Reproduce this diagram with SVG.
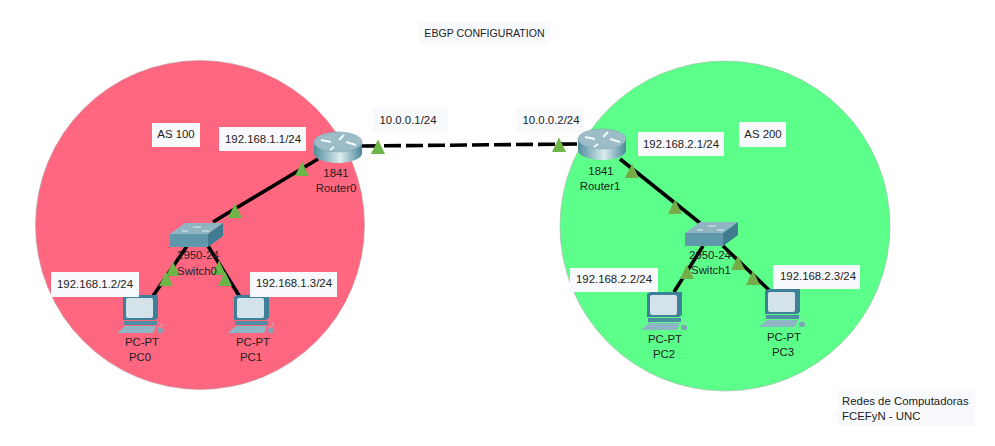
<svg xmlns="http://www.w3.org/2000/svg" width="995" height="446" viewBox="0 0 995 446">
<style>
text{font-family:"Liberation Sans",Arial,sans-serif;font-size:11.4px;fill:#222;text-anchor:middle}
.lb{fill:#f8f9fd}
.w{stroke:#000;stroke-width:3.6;fill:none}
.t{fill:#6eb548}
.t2{fill:#74ad47}
.st{text-anchor:start}
</style>
<defs>
<linearGradient id="rg" x1="0" x2="1" y1="0" y2="0"><stop offset="0" stop-color="#4f8e9f"/><stop offset=".55" stop-color="#dcecef"/><stop offset="1" stop-color="#4a8597"/></linearGradient>
<g id="router">
<path d="M-24 0V11C-24 17 -12 21 0 21S24 17 24 11V0Z" fill="url(#rg)"/>
<ellipse cx="0" cy="0" rx="24" ry="10" fill="#9cbcc8" stroke="#7fa3b0" stroke-width=".6"/>
<path d="M-17 -2L-7 0M6 -7L1 -2M8 0L18 3M-4 5L-8 8" stroke="#f2f7f9" stroke-width="2" fill="none"/>
</g>
<g id="switch">
<path d="M-26 -1H12L27 -12H-11Z" fill="#8fb5c3"/>
<rect x="-26" y="-1" width="38" height="13" fill="#5f98ab"/>
<path d="M12 -1L27 -12V1L12 12Z" fill="#3f7c90"/>
<path d="M-14 -4H-8M-3 -8H5M6 -4H13" stroke="#e3eef2" stroke-width="1"/>
</g>
<g id="pc">
<path d="M-17 -17L-14 -19H18V4L15 6H-17Z" fill="#3d8097"/>
<rect x="-14" y="-16" width="27" height="20" rx="2" fill="#d4e3ea"/>
<rect x="-16" y="7" width="33" height="4" fill="#4f8da3"/>
<path d="M-23 19L-15 12H16L13 19Z" fill="#8fb6c5"/>
<rect x="17" y="14" width="6" height="5" rx="2" fill="#7ba6b6"/>
<path d="M18 14C22 11 24 12 21 9" stroke="#a9c5cf" fill="none"/>
</g>
<polygon id="tri" points="0,-7.500 7,7 -7,7"/>
</defs>
<rect width="995" height="446" fill="#fff"/>
<g id="areas">
<circle cx="200" cy="225" r="164.500" fill="#ff6680" stroke="#b5a0a5" stroke-width=".6"/>
<circle cx="725" cy="226" r="165" fill="#5cff8a" stroke="#a0b5a5" stroke-width=".6"/>
</g>
<g id="connectors">
<path class="w" d="M318 159L213 222"/>
<path class="w" d="M187 246L151 299"/>
<path class="w" d="M208 246L240 297"/>
<path class="w" d="M620 159L700 223"/>
<path class="w" d="M703 246L674 292"/>
<path class="w" d="M723 246L771 292"/>
<path class="w" d="M362 146L578 144" stroke-dasharray="17 5"/>
</g>
<g id="link-lights">
<use href="#tri" class="t" x="302" y="169"/>
<use href="#tri" class="t" x="235" y="211"/>
<use href="#tri" class="t" x="173" y="269"/>
<use href="#tri" class="t" x="166" y="279"/>
<use href="#tri" class="t" x="219" y="268"/>
<use href="#tri" class="t" x="225" y="279"/>
<use href="#tri" class="t" x="378" y="147"/>
<use href="#tri" class="t" x="559" y="145"/>
<use href="#tri" class="t2" x="632" y="171"/>
<use href="#tri" class="t2" x="675" y="207"/>
<use href="#tri" class="t2" x="687" y="272"/>
<use href="#tri" class="t2" x="738" y="263"/>
<use href="#tri" class="t2" x="753" y="278"/>
</g>
<g id="Router0"><use href="#router" x="338" y="142"/><text x="336" y="177">1841</text><text x="336" y="192">Router0</text></g>
<g id="Router1"><use href="#router" x="602" y="139"/><text x="601" y="175">1841</text><text x="600" y="190">Router1</text></g>
<g id="Switch0"><use href="#switch" x="196" y="235"/><text x="198" y="259">2950-24</text><text x="197" y="275">Switch0</text></g>
<g id="Switch1"><use href="#switch" x="711" y="234"/><text x="710" y="259">2950-24</text><text x="711" y="274">Switch1</text></g>
<g id="PC0"><use href="#pc" x="140" y="314"/><text x="142" y="346">PC-PT</text><text x="140" y="361">PC0</text></g>
<g id="PC1"><use href="#pc" x="251" y="314"/><text x="253" y="346">PC-PT</text><text x="251" y="361">PC1</text></g>
<g id="PC2"><use href="#pc" x="664" y="311"/><text x="665" y="343">PC-PT</text><text x="664" y="358">PC2</text></g>
<g id="PC3"><use href="#pc" x="782" y="308"/><text x="784" y="341">PC-PT</text><text x="783" y="356">PC3</text></g>
<g id="labels">
<rect class="lb" x="152" y="123" width="48" height="24"/><text x="176" y="138">AS 100</text>
<rect class="lb" x="219" y="127" width="87" height="24"/><text x="263" y="143">192.168.1.1/24</text>
<rect class="lb" x="373" y="107" width="75" height="25"/><text x="408" y="124">10.0.0.1/24</text>
<rect class="lb" x="517" y="108" width="67" height="24"/><text x="551" y="124">10.0.0.2/24</text>
<rect class="lb" x="638" y="132" width="86" height="24"/><text x="681" y="148">192.168.2.1/24</text>
<rect class="lb" x="739" y="122" width="47" height="25"/><text x="763" y="138">AS 200</text>
<rect class="lb" x="51" y="272" width="88" height="25"/><text x="95" y="288">192.168.1.2/24</text>
<rect class="lb" x="250" y="272" width="87" height="25"/><text x="294" y="287">192.168.1.3/24</text>
<rect class="lb" x="570" y="268" width="88" height="24"/><text x="614" y="283">192.168.2.2/24</text>
<rect class="lb" x="773" y="265" width="87" height="24"/><text x="818" y="280">192.168.2.3/24</text>
<rect class="lb" x="419" y="22" width="131" height="22"/><text x="484.500" y="37" style="font-size:10.6px">EBGP CONFIGURATION</text>
<rect class="lb" x="838" y="389" width="137" height="37"/>
<text x="842" y="405" class="st">Redes de Computadoras</text>
<text x="842" y="420" class="st">FCEFyN - UNC</text>
</g>
</svg>
